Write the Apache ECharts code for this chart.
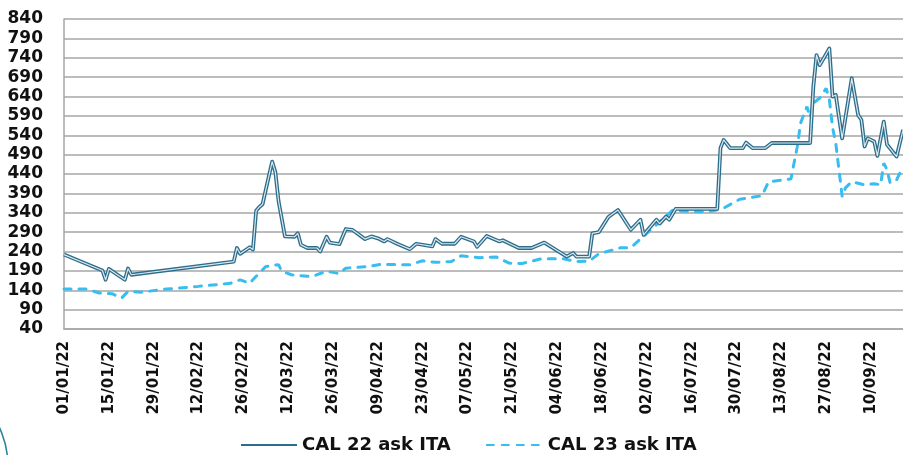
<!DOCTYPE html>
<html><head><meta charset="utf-8">
<script src="https://cdn.jsdelivr.net/npm/echarts@6/dist/echarts.min.js"></script>
<style>html,body{margin:0;padding:0;background:#fff}#c{width:903px;height:455px}</style>
</head><body><div id="c"></div>
<script>
// Category axis: one slot per calendar day, 01/01/22 .. 20/09/22
const axisStart = '2022-01-01';
const axisDays = 263;
const yTicks = { min: 40, max: 840, step: 50 };
const seriesNames = ['CAL 22 ask ITA', 'CAL 23 ask ITA'];

const cal22Dates = ['01/01/22','13/01/22','14/01/22','15/01/22','20/01/22','21/01/22','22/01/22','23/02/22','24/02/22','25/02/22','28/02/22','01/03/22','02/03/22','03/03/22','04/03/22','07/03/22','08/03/22','09/03/22','11/03/22','14/03/22','15/03/22','16/03/22','18/03/22','21/03/22','22/03/22','24/03/22','25/03/22','28/03/22','30/03/22','01/04/22','05/04/22','07/04/22','09/04/22','11/04/22','12/04/22','15/04/22','19/04/22','21/04/22','26/04/22','27/04/22','29/04/22','03/05/22','05/05/22','09/05/22','10/05/22','13/05/22','17/05/22','18/05/22','23/05/22','27/05/22','31/05/22','07/06/22','09/06/22','10/06/22','14/06/22','15/06/22','17/06/22','20/06/22','23/06/22','27/06/22','30/06/22','01/07/22','05/07/22','06/07/22','08/07/22','09/07/22','11/07/22','24/07/22','25/07/22','26/07/22','28/07/22','01/08/22','02/08/22','04/08/22','08/08/22','10/08/22','22/08/22','23/08/22','24/08/22','25/08/22','28/08/22','29/08/22','30/08/22','01/09/22','04/09/22','06/09/22','07/09/22','08/09/22','09/09/22','11/09/22','12/09/22','14/09/22','15/09/22','18/09/22','20/09/22'];
const cal22Values = [232,191,167,195,167,196,180,214,249,234,251,245,345,355,362,472,445,370,279,278,287,257,249,249,240,278,263,259,298,296,272,279,274,266,272,260,246,260,253,272,260,260,278,266,252,280,266,269,249,249,263,227,236,227,227,287,290,329,347,296,322,283,322,312,330,322,350,350,507,528,507,507,521,507,507,520,520,665,747,721,764,640,644,532,687,592,580,511,532,524,487,575,516,485,554];

const cal23Dates = ['01/01/22','08/01/22','12/01/22','16/01/22','19/01/22','21/01/22','25/01/22','02/02/22','12/02/22','22/02/22','25/02/22','28/02/22','02/03/22','05/03/22','09/03/22','10/03/22','13/03/22','18/03/22','20/03/22','24/03/22','28/03/22','30/03/22','06/04/22','10/04/22','15/04/22','19/04/22','23/04/22','27/04/22','02/05/22','05/05/22','11/05/22','16/05/22','20/05/22','24/05/22','30/05/22','06/06/22','10/06/22','14/06/22','17/06/22','24/06/22','27/06/22','02/07/22','07/07/22','10/07/22','14/07/22','21/07/22','26/07/22','31/07/22','07/08/22','09/08/22','16/08/22','18/08/22','19/08/22','21/08/22','22/08/22','23/08/22','25/08/22','27/08/22','28/08/22','29/08/22','30/08/22','31/08/22','01/09/22','02/09/22','04/09/22','08/09/22','11/09/22','13/09/22','14/09/22','15/09/22','16/09/22','18/09/22','20/09/22'];
const cal23Values = [143,143,133,131,120,137,135,143,150,158,167,158,176,201,206,189,180,176,177,189,183,197,201,207,206,206,216,212,214,229,224,226,210,209,221,221,214,215,234,250,250,287,324,346,344,342,352,375,384,420,427,511,571,614,586,623,636,661,632,560,520,451,382,404,420,412,415,412,468,451,417,425,459];

function pad(n){return (n<10?'0':'')+n;}
const categories = [];
{
  const t0 = Date.parse(axisStart + 'T00:00:00Z');
  for (let i = 0; i < axisDays; i++) {
    const d = new Date(t0 + i*86400000);
    categories.push(pad(d.getUTCDate()) + '/' + pad(d.getUTCMonth()+1) + '/' + String(d.getUTCFullYear()).slice(2));
  }
}
const pairs = (ds, vs) => ds.map((d, i) => [d, vs[i]]);

const FONT = 'DejaVu Sans';
const chart = echarts.init(document.getElementById('c'), null, {renderer: 'canvas'});
chart.setOption({
  animation: false,
  backgroundColor: '#ffffff',
  grid: { left: 64, top: 19, right: 0, bottom: 126, containLabel: false },
  xAxis: {
    type: 'category',
    data: categories,
    boundaryGap: false,
    axisLine: { show: true, lineStyle: { color: '#a6a6a6', width: 1.5 } },
    axisTick: { show: false },
    splitLine: { show: false },
    axisLabel: {
      interval: 13, rotate: 90, margin: 12,
      fontFamily: FONT, fontWeight: 'bold', fontSize: 15, color: '#111'
    }
  },
  yAxis: {
    type: 'value',
    min: yTicks.min, max: yTicks.max, interval: yTicks.step,
    axisLine: { show: true, lineStyle: { color: '#a6a6a6', width: 1.5 } },
    axisTick: { show: false },
    splitLine: { show: true, lineStyle: { color: '#a6a6a6', width: 1.5 } },
    axisLabel: { margin: 21, fontFamily: FONT, fontWeight: 'bold', fontSize: 17, color: '#111' }
  },
  legend: {
    data: seriesNames,
    left: 240, top: 436, padding: 0,
    itemWidth: 56, itemHeight: 14, itemGap: 35,
    itemStyle: { opacity: 0 },
    textStyle: { fontFamily: FONT, fontWeight: 'bold', fontSize: 18, color: '#111' }
  },
  graphic: [{
    type: 'circle', silent: true,
    shape: { cx: -82, cy: 466, r: 90 },
    style: { fill: 'none', stroke: '#2a7f9e', lineWidth: 1.5 }
  }],
  series: [
    {
      name: seriesNames[0], type: 'line', symbol: 'none', z: 3,
      data: pairs(cal22Dates, cal22Values),
      itemStyle: { color: '#2c6d8c' },
      lineStyle: { color: '#2c6d8c', width: 3.8, join: 'round' }
    },
    {
      name: 'CAL 22 inner', type: 'line', symbol: 'none', z: 4,
      data: pairs(cal22Dates, cal22Values),
      itemStyle: { color: '#dbe8ee' },
      lineStyle: { color: '#dbe8ee', width: 1.2, join: 'round' }
    },
    {
      name: seriesNames[1], type: 'line', symbol: 'none', z: 2,
      data: pairs(cal23Dates, cal23Values),
      itemStyle: { color: '#38bdf0' },
      lineStyle: { color: '#38bdf0', width: 3, type: [7, 8], cap: 'round' }
    }
  ]
});
</script></body></html>
